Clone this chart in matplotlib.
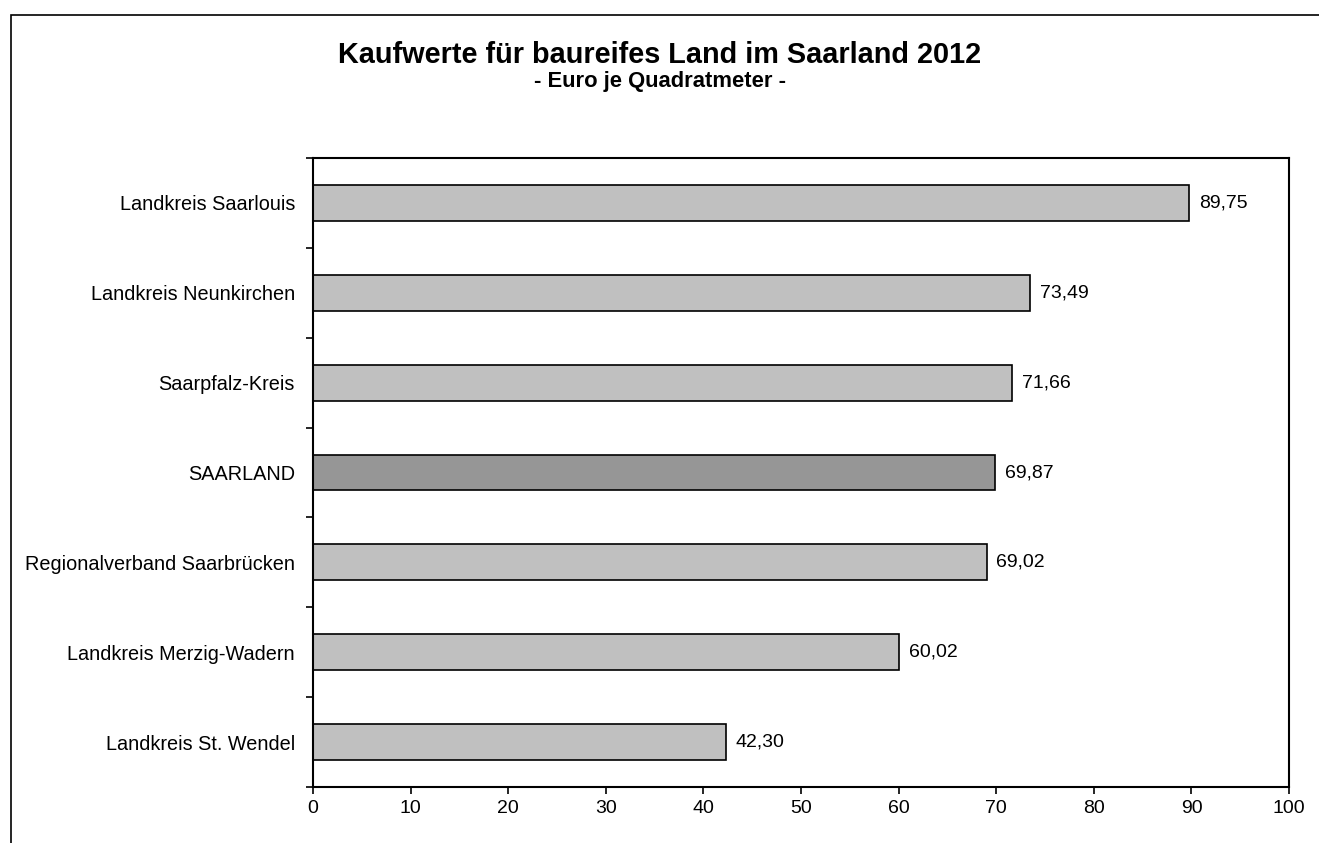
import numpy as np
import matplotlib.pyplot as plt
from matplotlib.patches import Rectangle

plt.rcParams['font.family'] = ['Liberation Sans', 'DejaVu Sans']

# ----------------------------------------------------------
# Data
# ----------------------------------------------------------
regions = [
    "Landkreis Saarlouis",
    "Landkreis Neunkirchen",
    "Saarpfalz-Kreis",
    "SAARLAND",
    "Regionalverband Saarbrücken",
    "Landkreis Merzig-Wadern",
    "Landkreis St. Wendel",
]
prices = [89.75, 73.49, 71.66, 69.87, 69.02, 60.02, 42.30]
highlight = "SAARLAND"

x_ticks = list(range(0, 101, 10))

# ----------------------------------------------------------
# Figure
# ----------------------------------------------------------
fig = plt.figure(figsize=(13.19, 8.43), dpi=100)
ax = fig.add_axes([0.2373, 0.0664, 0.74, 0.7462])

colors = ["#969696" if r == highlight else "#C0C0C0" for r in regions]
pos = np.arange(len(regions))

ax.barh(pos, prices, height=0.4, color=colors, edgecolor="black", linewidth=1.2)

for p, v in zip(pos, prices):
    ax.text(v + 1.0, p, f"{v:.2f}".replace(".", ","), va="center", ha="left", fontsize=14)

ax.set_xlim(0, 100)
ax.set_ylim(len(regions) - 0.5, -0.5)
ax.set_xticks(x_ticks)
ax.set_yticks(pos)
ax.set_yticklabels(regions)
ax.set_yticks(np.arange(-0.5, len(regions)), minor=True)
ax.tick_params(axis="y", which="major", length=0, pad=13, labelsize=14.3)
ax.tick_params(axis="y", which="minor", length=5, width=1.2)
ax.tick_params(axis="x", length=5, width=1.2, labelsize=14, pad=4)

for s in ax.spines.values():
    s.set_linewidth(1.5)

fig.text(0.5, 0.9253, "Kaufwerte für baureifes Land im Saarland 2012",
         ha="center", va="baseline", fontsize=20.8, fontweight="bold")
fig.text(0.5, 0.8968, "- Euro je Quadratmeter -",
         ha="center", va="baseline", fontsize=15.8, fontweight="bold")

# outer frame
fig.patches.append(Rectangle((11 / 1319, -0.05), 1.2, 1 - 15 / 843 + 0.05,
                             transform=fig.transFigure, fill=False,
                             edgecolor="black", linewidth=1.2))

fig.savefig("out.png", dpi=100)
